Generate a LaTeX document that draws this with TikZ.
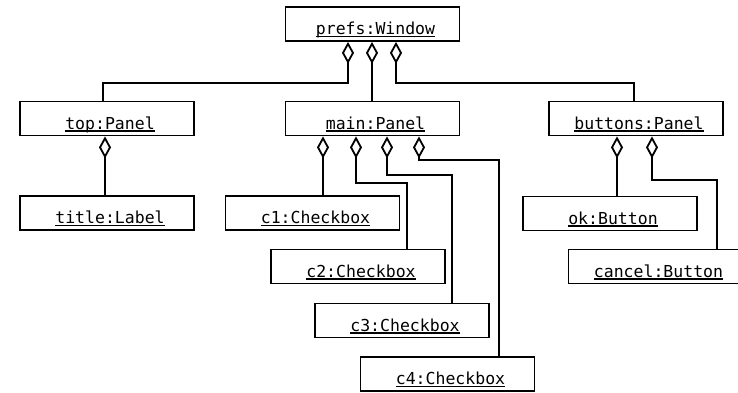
\documentclass[tikz,border=0pt]{standalone}
\usepackage{fontspec}
\setmonofont{DejaVu Sans Mono}
\usetikzlibrary{arrows.meta}
\newcommand\ulname[1]{\setbox0\hbox{#1}\rlap{\rule[-2.6pt]{\wd0}{1.2pt}}\box0}
\tikzset{
  obj/.style={draw, line width=1.8pt, minimum width=174pt, minimum height=34pt,
    inner sep=0pt, font=\ttfamily\fontsize{16.5}{18}\selectfont,
    text height=21pt, text depth=0pt},
  agg/.style={line width=1.8pt,
    -{Diamond[open, length=22pt, width=12pt, line width=1.8pt]}}
}
\begin{document}
\begin{tikzpicture}[x=1pt,y=-1pt]
\useasboundingbox (0,0) rectangle (738,393);
\fill[white] (0,0) rectangle (738,393);
% objects
\node[obj] (prefs)   at (372.5,24)  {\hspace*{6pt}\ulname{prefs:Window}};
\node[obj] (top)     at (107,118.5) {\hspace*{6pt}\ulname{top:Panel}};
\node[obj] (main)    at (372.5,118.5) {\hspace*{6pt}\ulname{main:Panel}};
\node[obj] (buttons) at (636,118.5) {\hspace*{6pt}\ulname{buttons:Panel}};
\node[obj] (title)   at (107,213)   {\hspace*{6pt}\ulname{title:Label}};
\node[obj] (c1)      at (312.5,213) {\hspace*{6pt}\ulname{c1:Checkbox}};
\node[obj] (c2)      at (358,266.5) {\hspace*{6pt}\ulname{c2:Checkbox}};
\node[obj] (c3)      at (402,320.5) {\hspace*{6pt}\ulname{c3:Checkbox}};
\node[obj] (c4)      at (447.5,374) {\hspace*{6pt}\ulname{c4:Checkbox}};
\node[obj] (ok)      at (610,213.5) {\hspace*{6pt}\ulname{ok:Button}};
\node[obj] (cancel)  at (655.5,266.5) {\hspace*{6pt}\ulname{cancel:Button}};
% attachment points on the owners
\coordinate (p1) at ([xshift=-24.5pt]prefs.south);
\coordinate (p2) at ([xshift=-0.5pt]prefs.south);
\coordinate (p3) at ([xshift=23.5pt]prefs.south);
\coordinate (t1) at ([xshift=-2pt]top.south);
\coordinate (m1) at ([xshift=-49.5pt]main.south);
\coordinate (m2) at ([xshift=-16.5pt]main.south);
\coordinate (m3) at ([xshift=14.5pt]main.south);
\coordinate (m4) at ([xshift=46.5pt]main.south);
\coordinate (b1) at ([xshift=-19pt]buttons.south);
\coordinate (b2) at ([xshift=16pt]buttons.south);
% bend levels
\coordinate (lv0) at (0,83);
\coordinate (lvc2) at (0,183);
\coordinate (lvc3) at (0,175);
\coordinate (lvc4) at (0,160);
\coordinate (lvcan) at (0,180);
% connectors
\draw[agg] ([xshift=-4pt]top.north) |- (lv0 -| p1) -- (p1);
\draw[agg] (main.north -| p2) -- (p2);
\draw[agg] ([xshift=-2pt]buttons.north) |- (lv0 -| p3) -- (p3);
\draw[agg] (title.north -| t1) -- (t1);
\draw[agg] (c1.north -| m1) -- (m1);
\draw[agg] ([xshift=49pt]c2.north) |- (lvc2 -| m2) -- (m2);
\draw[agg] ([xshift=50pt]c3.north) |- (lvc3 -| m3) -- (m3);
\draw[agg] ([xshift=51.5pt]c4.north) |- (lvc4 -| m4) -- (m4);
\draw[agg] (ok.north -| b1) -- (b1);
\draw[agg] ([xshift=61.5pt]cancel.north) |- (lvcan -| b2) -- (b2);
\end{tikzpicture}
\end{document}
